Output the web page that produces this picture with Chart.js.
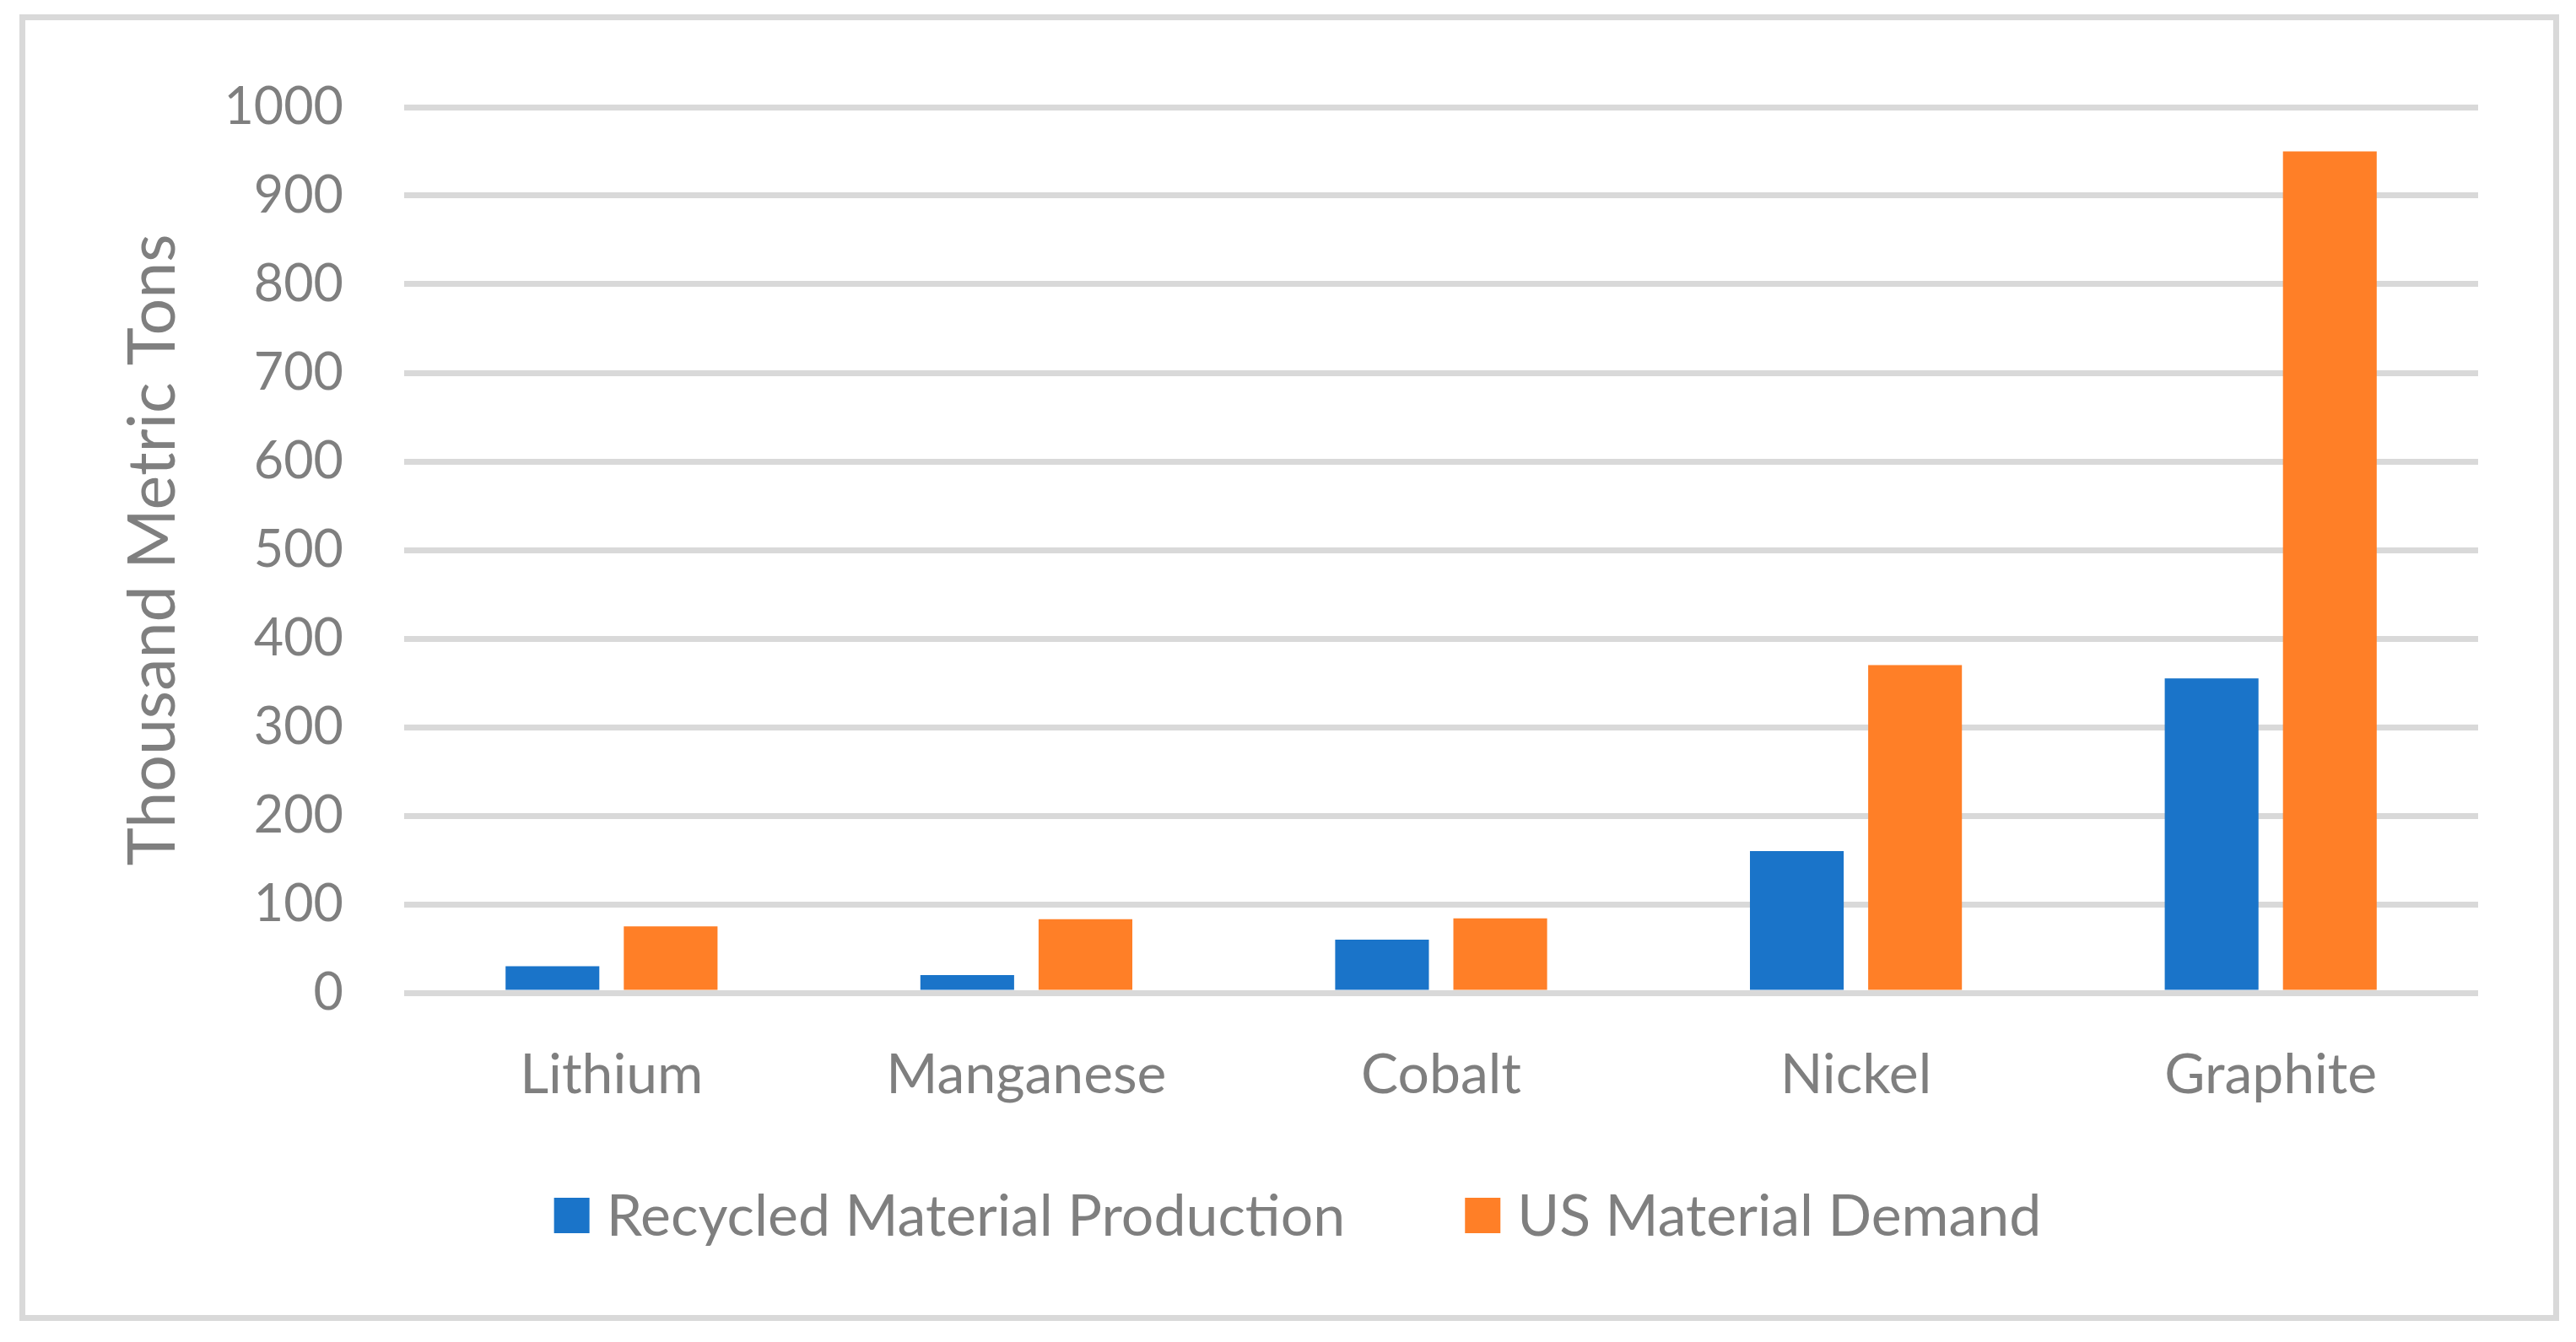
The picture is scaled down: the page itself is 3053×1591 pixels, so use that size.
<!DOCTYPE html>
<html lang="en">
<head>
<meta charset="utf-8">
<title>Recycled Material Production vs US Material Demand</title>
<script src="https://cdn.jsdelivr.net/npm/chart.js@4.4.0/dist/chart.umd.min.js"></script>
<style>
  html, body { margin: 0; padding: 0; background: #ffffff; }
  canvas { display: block; }
</style>
</head>
<body>
<canvas id="materialsChart" width="3053" height="1591"></canvas>
<script>
// Chart data (thousand metric tons)
const categories = ['Lithium', 'Manganese', 'Cobalt', 'Nickel', 'Graphite'];
const recycledProduction = [30, 20, 60, 160, 355];
const usDemand = [75, 83, 84, 370, 950];
const seriesNames = ['Recycled Material Production', 'US Material Demand'];
const yTickValues = [0, 100, 200, 300, 400, 500, 600, 700, 800, 900, 1000];

const TEXT_COLOR = '#7f7f7f';
const GRID_COLOR = '#d9d9d9';
const FONT_FAMILY = 'Lato, "Open Sans", sans-serif';

/**
 * Draw the white background and the light grey frame around the chart
 */
const framePlugin = {
  id: 'frame',
  beforeDraw(chart) {
    const ctx = chart.ctx;
    ctx.save();
    ctx.fillStyle = '#ffffff';
    ctx.fillRect(0, 0, chart.width, chart.height);
    ctx.strokeStyle = GRID_COLOR;
    ctx.lineWidth = 7;
    ctx.strokeRect(26.5, 20.5, 3003, 1542);
    ctx.restore();
  }
};

/**
 * Excel-like legend below the axis: square marker + label, centred
 */
const legendPlugin = {
  id: 'bottomLegend',
  afterDraw(chart) {
    const ctx = chart.ctx;
    const box = 42;
    const boxGap = 20;
    const itemGap = 142;
    const centerX = 1538;
    const centerY = 1441;

    ctx.save();
    ctx.font = `68px ${FONT_FAMILY}`;
    ctx.textBaseline = 'middle';
    ctx.textAlign = 'left';

    const items = chart.data.datasets.map(ds => ({
      text: ds.label,
      color: ds.backgroundColor,
      width: ctx.measureText(ds.label).width
    }));
    const total = items.reduce((sum, it) => sum + box + boxGap + it.width, 0) + itemGap * (items.length - 1);

    let x = centerX - total / 2;
    for (const item of items) {
      ctx.fillStyle = item.color;
      ctx.fillRect(x, centerY - box / 2, box, box);
      ctx.fillStyle = TEXT_COLOR;
      ctx.fillText(item.text, x + box + boxGap, centerY + 2);
      x += box + boxGap + item.width + itemGap;
    }
    ctx.restore();
  }
};

const ctx = document.getElementById('materialsChart').getContext('2d');

new Chart(ctx, {
  type: 'bar',
  data: {
    labels: categories,
    datasets: [{
      label: seriesNames[0],
      data: recycledProduction,
      backgroundColor: '#1a74c9',
      borderWidth: 0
    }, {
      label: seriesNames[1],
      data: usDemand,
      backgroundColor: '#ff7f27',
      borderWidth: 0
    }]
  },
  options: {
    responsive: false,
    animation: false,
    devicePixelRatio: 1,
    categoryPercentage: 0.57,
    barPercentage: 0.793,
    layout: {
      padding: { top: 127, left: 0, right: 116, bottom: 0 }
    },
    plugins: {
      legend: { display: false },
      tooltip: { enabled: false }
    },
    scales: {
      x: {
        grid: { display: false },
        border: { display: false },
        ticks: {
          color: TEXT_COLOR,
          padding: 50,
          font: { family: FONT_FAMILY, size: 66 }
        },
        afterFit: (scale) => { scale.height = 414; }
      },
      y: {
        min: 0,
        max: 1000,
        afterBuildTicks: (scale) => {
          scale.ticks = yTickValues.map(v => ({ value: v }));
        },
        grid: {
          color: GRID_COLOR,
          lineWidth: 7,
          drawTicks: false
        },
        border: { display: false },
        ticks: {
          color: TEXT_COLOR,
          padding: 72,
          font: { family: FONT_FAMILY, size: 61 },
          callback: (value) => String(value)
        },
        title: {
          display: true,
          text: 'Thousand Metric Tons',
          color: TEXT_COLOR,
          font: { family: FONT_FAMILY, size: 77 },
          padding: { top: 136, bottom: 0 }
        },
        afterFit: (scale) => { scale.width = 479; }
      }
    }
  },
  plugins: [framePlugin, legendPlugin]
});
</script>
</body>
</html>
